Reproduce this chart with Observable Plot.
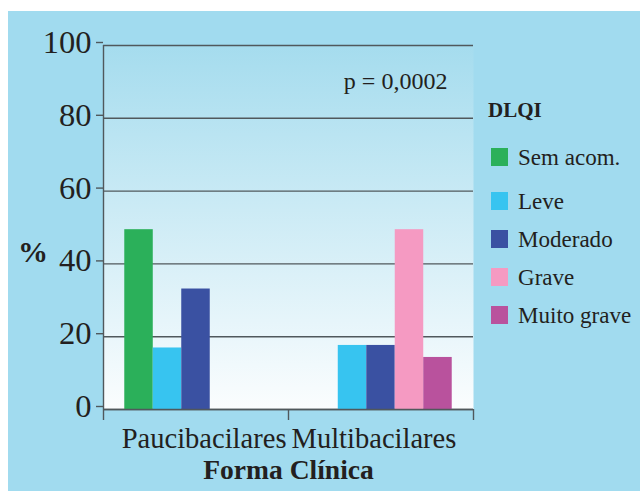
<!DOCTYPE html>
<html>
<head>
<meta charset="utf-8">
<script src="https://cdn.jsdelivr.net/npm/d3@7"></script>
<script src="https://cdn.jsdelivr.net/npm/@observablehq/plot@0.6"></script>
<style>
  html, body { margin: 0; padding: 0; background: #ffffff; width: 640px; height: 491px; overflow: hidden; }
  #panel { position: absolute; left: 8px; top: 11px; width: 632px; height: 480px; background: #a1dbef; }
  #chart { position: absolute; left: 0; top: 0; }
  #legend { position: absolute; left: 488px; top: 100px; color: #231f20; }
  #legend .title { font-weight: bold; }
  #legend .item { display: flex; align-items: center; height: 20px; margin-top: 18px; margin-left: 3px; white-space: nowrap; }
  #legend .item.first { margin-top: 26px; }
  #legend .item.second { margin-top: 24px; }
  #legend .sw { display: inline-block; width: 17px; height: 18px; margin-right: 10px; flex: none; }
</style>
</head>
<body>
<div id="panel"></div>
<div id="chart"></div>
<div id="legend"></div>
<script>
// ---- data ----
const groups = ["Paucibacilares", "Multibacilares"];
const dlqiLevels = ["Sem acom.", "Leve", "Moderado", "Grave", "Muito grave"];
const pauciValues = [49.4, 16.9, 33.1, 0, 0];
const multiValues = [0, 17.6, 17.6, 49.4, 14.3];
const yTicks = [0, 20, 40, 60, 80, 100];
const pValueLabel = "p = 0,0002";
const legendTitle = "DLQI";
const xTitle = "Forma Clínica";
const yTitle = "%";

// ---- styles ----
const colors = ["#2bb05a", "#37c4f0", "#3a51a2", "#f59ac2", "#b9529d"];
const ink = "#231f20";
const lineColor = "#50585c";
const groupPad = 0.115;
const barW = (1 - 2 * groupPad) / dlqiLevels.length;

// pick an installed serif face and scale text so widths match the reference
function hasFont(name) {
  const c = document.createElement("canvas").getContext("2d");
  const s = "Paucibacilares 0123456789 Wmi";
  c.font = "72px monospace";
  const w0 = c.measureText(s).width;
  c.font = `72px "${name}", monospace`;
  return c.measureText(s).width !== w0;
}
const family = ["Liberation Serif", "Tinos", "Times New Roman", "Nimbus Roman", "DejaVu Serif"].find(hasFont) || "serif";
const fontStack = `"${family}", serif`;
const k = (() => {
  const c = document.createElement("canvas").getContext("2d");
  c.font = `28px ${fontStack}`;
  return 162 / c.measureText("Paucibacilares").width;
})();
const fs = v => +(v * k).toFixed(2);

const seriesByGroup = [pauciValues, multiValues];
const rows = groups.flatMap((g, gi) =>
  dlqiLevels.map((c, ci) => ({ group: g, gi, dlqi: c, ci, value: seriesByGroup[gi][ci] }))
).filter(d => d.value > 0);

const plot = Plot.plot({
  width: 480,
  height: 491,
  marginLeft: 103,
  marginRight: 7,
  marginTop: 45,
  marginBottom: 82,
  style: { background: "transparent", fontFamily: fontStack, color: ink, overflow: "visible" },
  x: { domain: [0, groups.length], axis: null },
  y: { domain: [0, 100], axis: null },
  color: { domain: dlqiLevels, range: colors },
  marks: [
    Plot.frame({ fill: "url(#plotGradient)", stroke: "none" }),
    Plot.gridY({ ticks: yTicks, stroke: lineColor, strokeOpacity: 1, strokeWidth: 1.4 }),
    Plot.rectY(rows, {
      x1: d => d.gi + groupPad + d.ci * barW,
      x2: d => d.gi + groupPad + (d.ci + 1) * barW,
      y: "value",
      fill: "dlqi"
    }),
    Plot.ruleY([0], { stroke: lineColor, strokeWidth: 1.4 }),
    Plot.ruleX([0], { stroke: lineColor, strokeWidth: 1.4 }),
    Plot.axisY({ ticks: yTicks, tickSize: 7, tickPadding: 5, fontSize: fs(32.5), label: null, stroke: lineColor, strokeWidth: 1.4, fill: ink, dy: -3 }),
    Plot.axisX({ ticks: d3.range(groups.length + 1), tickSize: 11, tickFormat: () => "", label: null, stroke: lineColor, strokeWidth: 1.4 }),
    Plot.text([groups[0]], { x: () => 1, y: () => 0, text: d => d, textAnchor: "end", dx: -2, dy: 29, fontSize: fs(28.5), lineAnchor: "middle", fill: ink }),
    Plot.text([groups[1]], { x: () => 1, y: () => 0, text: d => d, textAnchor: "start", dx: 3, dy: 29, fontSize: fs(28.5), lineAnchor: "middle", fill: ink }),
    Plot.text([xTitle], { frameAnchor: "bottom", text: d => d, textAnchor: "middle", dy: 61, fontSize: fs(27.5), fontWeight: "bold", lineAnchor: "middle", fill: ink }),
    Plot.text([yTitle], { frameAnchor: "left", text: d => d, textAnchor: "middle", dx: -70.5, dy: 25, fontSize: fs(30), fontWeight: "bold", lineAnchor: "middle", fill: ink }),
    Plot.text([pValueLabel], { frameAnchor: "top-right", text: d => d, dx: -26, dy: 36, fontSize: fs(24), textAnchor: "end", lineAnchor: "middle", fill: ink })
  ]
});

// gradient for the plot area background
const ns = "http://www.w3.org/2000/svg";
const defs = document.createElementNS(ns, "defs");
const grad = document.createElementNS(ns, "linearGradient");
grad.setAttribute("id", "plotGradient");
grad.setAttribute("x1", "0"); grad.setAttribute("y1", "0");
grad.setAttribute("x2", "0"); grad.setAttribute("y2", "1");
[["0", "#a5dcee"], ["1", "#fbfdfe"]].forEach(([o, c]) => {
  const s = document.createElementNS(ns, "stop");
  s.setAttribute("offset", o);
  s.setAttribute("stop-color", c);
  grad.appendChild(s);
});
defs.appendChild(grad);
plot.insertBefore(defs, plot.firstChild);
document.getElementById("chart").appendChild(plot);

// legend
const legend = document.getElementById("legend");
legend.style.fontFamily = fontStack;
const title = document.createElement("div");
title.className = "title";
title.style.fontSize = fs(21) + "px";
title.style.lineHeight = "21px";
title.textContent = legendTitle;
legend.appendChild(title);
dlqiLevels.forEach((lvl, i) => {
  const item = document.createElement("div");
  item.className = "item" + (i === 0 ? " first" : i === 1 ? " second" : "");
  item.style.fontSize = fs(23) + "px";
  item.style.lineHeight = "23px";
  const sw = document.createElement("span");
  sw.className = "sw";
  sw.style.background = colors[i];
  const lab = document.createElement("span");
  lab.textContent = lvl;
  item.appendChild(sw);
  item.appendChild(lab);
  legend.appendChild(item);
});
</script>
</body>
</html>
